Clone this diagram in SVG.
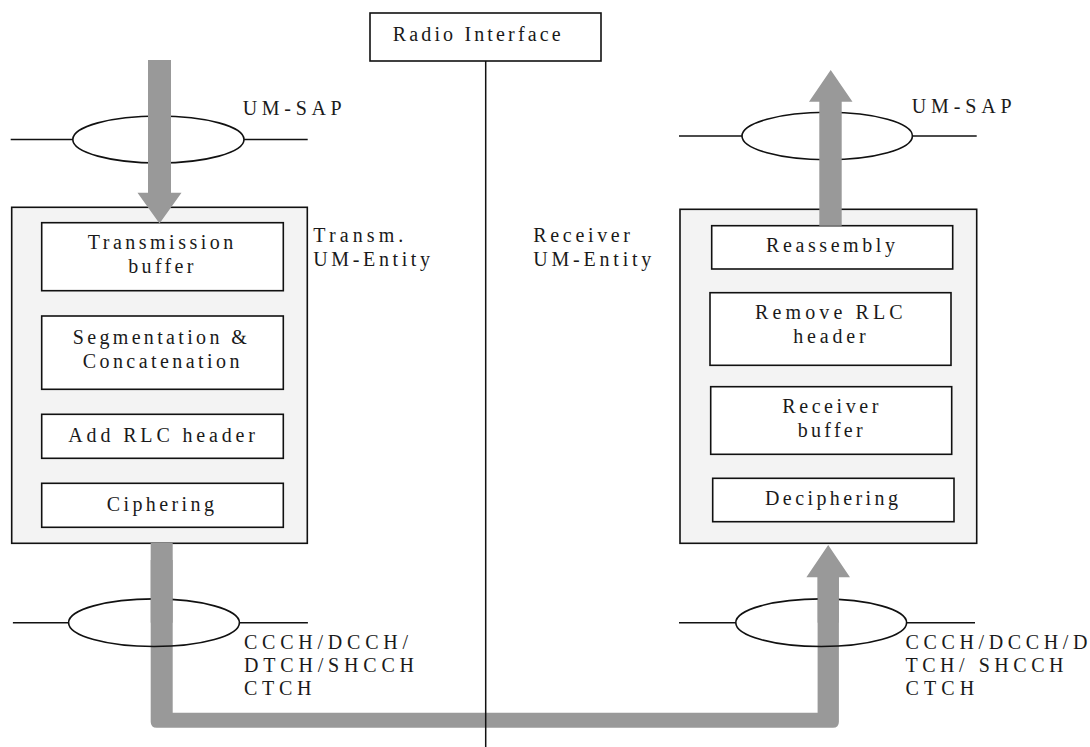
<svg xmlns="http://www.w3.org/2000/svg" width="1090" height="747" viewBox="0 0 1090 747">
<style>
  text { font-family: "Liberation Serif", "Times New Roman", serif; font-size: 20px; fill: #1a1a1a; }
  .outer { fill: #f3f3f3; stroke: #111; stroke-width: 1.6; }
  .inner { fill: #ffffff; stroke: #111; stroke-width: 1.6; }
  .line { stroke: #111; stroke-width: 1.5; fill: none; }
  .sap { fill: none; stroke: #111; stroke-width: 1.6; }
  .pipe { fill: #999999; stroke: none; }
</style>
<rect width="1090" height="747" fill="#ffffff"/>

<!-- Transmitting entity -->
<g id="transm-entity">
  <rect x="11.7" y="207.3" width="295.6" height="336" class="outer"/>
  <text x="313.3" y="241.7" textLength="90" lengthAdjust="spacing">Transm.</text>
  <text x="313.3" y="265.7" textLength="116.7" lengthAdjust="spacing">UM-Entity</text>
</g>
<g id="transmission-buffer">
  <rect x="41.7" y="222.7" width="241.6" height="68" class="inner"/>
  <text x="87.7" y="249.3" textLength="145.6" lengthAdjust="spacing">Transmission</text>
  <text x="128.3" y="273.3" textLength="65" lengthAdjust="spacing">buffer</text>
</g>
<g id="segmentation">
  <rect x="41.7" y="316" width="241.6" height="73.3" class="inner"/>
  <text x="72.7" y="344" textLength="174" lengthAdjust="spacing">Segmentation &amp;</text>
  <text x="82.7" y="367.7" textLength="156.7" lengthAdjust="spacing">Concatenation</text>
</g>
<g id="add-rlc-header">
  <rect x="41.7" y="414.3" width="241.6" height="44" class="inner"/>
  <text x="68.3" y="442" textLength="186.7" lengthAdjust="spacing">Add RLC header</text>
</g>
<g id="ciphering">
  <rect x="41.7" y="483.3" width="241.6" height="44" class="inner"/>
  <text x="106.7" y="511" textLength="107.3" lengthAdjust="spacing">Ciphering</text>
</g>

<!-- Receiving entity -->
<g id="receiver-entity">
  <rect x="680" y="209.3" width="296.7" height="334" class="outer"/>
  <text x="533.3" y="241.7" textLength="96.7" lengthAdjust="spacing">Receiver</text>
  <text x="533.3" y="265.7" textLength="118" lengthAdjust="spacing">UM-Entity</text>
</g>
<g id="reassembly">
  <rect x="711.7" y="225.7" width="241" height="43.3" class="inner"/>
  <text x="766" y="251.7" textLength="129" lengthAdjust="spacing">Reassembly</text>
</g>
<g id="remove-rlc-header">
  <rect x="710" y="292.7" width="241" height="72.6" class="inner"/>
  <text x="755" y="319.3" textLength="147.7" lengthAdjust="spacing">Remove RLC</text>
  <text x="793.3" y="342.7" textLength="72.3" lengthAdjust="spacing">header</text>
</g>
<g id="receiver-buffer">
  <rect x="710.7" y="386.7" width="241" height="67.6" class="inner"/>
  <text x="782.3" y="413.3" textLength="96" lengthAdjust="spacing">Receiver</text>
  <text x="797.7" y="436.7" textLength="65" lengthAdjust="spacing">buffer</text>
</g>
<g id="deciphering">
  <rect x="712.7" y="478.3" width="241.3" height="43.4" class="inner"/>
  <text x="765" y="505" textLength="133" lengthAdjust="spacing">Deciphering</text>
</g>

<!-- Service access points -->
<g id="sap-top-left">
  <line x1="10.7" y1="139.5" x2="72.7" y2="139.5" class="line"/>
  <line x1="244" y1="139.5" x2="307.7" y2="139.5" class="line"/>
  <ellipse cx="158.4" cy="139.5" rx="85.6" ry="23.5" class="sap"/>
  <text x="242.7" y="115" textLength="99" lengthAdjust="spacing">UM-SAP</text>
</g>
<g id="sap-top-right">
  <line x1="679" y1="136" x2="742" y2="136" class="line"/>
  <line x1="912.3" y1="136" x2="976.7" y2="136" class="line"/>
  <ellipse cx="827.2" cy="136" rx="85.2" ry="23.7" class="sap"/>
  <text x="911.7" y="112.7" textLength="100" lengthAdjust="spacing">UM-SAP</text>
</g>

<!-- Connectors -->
<g id="connectors">
  <!-- bottom pipe, drawn under bottom SAP ellipses -->
  <path class="pipe" d="M150.7,543 L150.7,721.7 Q150.7,727.7 156.7,727.7 L832.9,727.7 Q838.9,727.7 838.9,721.7 L838.9,577.3 L850,577.3 L828.2,545 L806.4,577.3 L817.6,577.3 L817.6,712.7 L172.7,712.7 L172.7,543 Z"/>
  <!-- top-left incoming arrow -->
  <path class="pipe" d="M148,60 L171,60 L171,192.7 L181.5,192.7 L159.5,223.5 L137.5,192.7 L148,192.7 Z"/>
  <!-- top-right outgoing arrow -->
  <path class="pipe" d="M819.3,225.7 L819.3,101.7 L809,101.7 L830.7,70 L852.5,101.7 L841.7,101.7 L841.7,225.7 Z"/>
</g>

<g id="sap-bottom-left">
  <line x1="12.9" y1="622.7" x2="68.6" y2="622.7" class="line"/>
  <line x1="239.3" y1="622.7" x2="307.9" y2="622.7" class="line"/>
  <ellipse cx="154" cy="622.7" rx="85.4" ry="23.8" class="sap"/>
  <rect x="150.7" y="560" width="22" height="62.7" class="pipe"/>
  <text x="244" y="649" textLength="164" lengthAdjust="spacing">CCCH/DCCH/</text>
  <text x="244" y="672" textLength="170" lengthAdjust="spacing">DTCH/SHCCH</text>
  <text x="244" y="695" textLength="67.5" lengthAdjust="spacing">CTCH</text>
</g>
<g id="sap-bottom-right">
  <line x1="679" y1="622.7" x2="735.8" y2="622.7" class="line"/>
  <line x1="906.5" y1="622.7" x2="975" y2="622.7" class="line"/>
  <ellipse cx="821.2" cy="622.7" rx="85.4" ry="23.8" class="sap"/>
  <rect x="817.6" y="577" width="21.3" height="45.7" class="pipe"/>
  <text x="905.5" y="649" textLength="182" lengthAdjust="spacing">CCCH/DCCH/D</text>
  <text x="905.5" y="672" textLength="158" lengthAdjust="spacing">TCH/ SHCCH</text>
  <text x="905.5" y="695" textLength="68.6" lengthAdjust="spacing">CTCH</text>
</g>

<!-- Radio interface (line drawn over the pipe) -->
<g id="radio-interface">
  <rect x="370" y="13" width="231" height="48" class="inner"/>
  <text x="392.7" y="40.7" textLength="168" lengthAdjust="spacing">Radio Interface</text>
  <line x1="485.7" y1="61" x2="485.7" y2="747" class="line"/>
</g>
</svg>
